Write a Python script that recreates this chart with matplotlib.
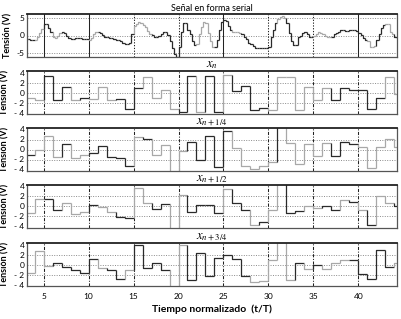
import matplotlib
matplotlib.use("Agg")
import matplotlib.pyplot as plt

plt.rcParams["font.family"] = ["Lato", "DejaVu Sans"]
plt.rcParams["mathtext.fontset"] = "stix"

# start of each unit interval
T = list(range(3, 45))

# serial signal, four samples per unit interval (t = 3, 3.25, ... 44.75)
SERIAL = [-1.0, -1.1, -1.2, -1.3, -1.2, -0.5, 0.6, 1.8,
          3.3, 3.1, 2.1, 0.9, -0.3, -0.6, -0.2, 0.6,
          1.1, 0.8, -0.1, -0.6, -1.0, -1.0, -0.8, -0.7,
          -0.8, -1.0, -1.0, -1.1, -1.2, -0.6, 0.4, 1.0,
          1.1, 0.7, 0.2, -0.3, -0.4, -0.6, -0.8, -1.1,
          -1.2, -1.3, -1.6, -2.0, -2.4, -2.5, -2.2, 0.5,
          2.6, 3.3, 3.7, 3.6, 3.0, 2.4, 1.3, 0.4,
          0.1, -0.4, -0.5, 0.0, 0.5, 1.0, 1.1, 0.2,
          -1.5, -3.6, -5.2, -6.0, -3.1, 1.0, 3.5, 3.4,
          1.5, 0.5, -1.5, -2.7, -2.5, 0.5, 2.5, 3.7,
          3.5, 0.7, -1.5, -3.1, -3.2, -1.2, 1.5, 3.8,
          4.3, 4.0, 2.6, 1.5, 1.1, 1.0, 1.1, 0.8,
          0.5, -0.3, -1.0, -2.2, -2.5, -3.0, -3.5, -3.6,
          -3.6, -3.5, -3.6, -3.4, -3.1, -0.3, 1.5, 3.5,
          4.5, 5.3, 5.4, 5.0, 3.5, 0.7, -1.5, -2.7,
          -2.6, -0.3, -0.2, 0.6, 1.1, 0.3, -0.5, -0.4,
          0.0, 0.3, 0.9, 0.8, 0.3, 0.0, -0.3, -0.5,
          -0.3, 0.5, 0.7, 1.0, 1.4, 1.4, 1.3, 1.3,
          1.4, 1.4, 1.5, 1.3, 0.8, 0.2, -0.6, -1.2,
          -1.5, -3.1, -3.2, -2.8, -1.2, 0.5, 2.1, 3.0,
          3.3, 3.1, 1.1, 0.5, -0.3, -0.8, -0.8, -0.8]
SERIAL_C = "kgkgkkkgkk" "kkggkkkkkg" "gkkgkkkkgk" "kkggkkkkgk" "gk"

# channel values, one per unit interval (t = 3 .. 44)
XN = [-1.1, -1.4, 3.3, -1.4, 1.2, -1.4, -1.0, -1.2, 1.1, -1.4,
      -1.2, -3.3, 1.0, 3.0, -1.0, 0.5, -3.2, -3.8, 3.3, -3.8,
      3.3, -3.8, 3.5, 0.4, 1.3, -3.5, -3.1, -3.5, 3.1, 3.1,
      -3.5, 1.2, -1.4, 1.0, -1.4, 1.0, 0.5, 0.6, -3.2, -1.0,
      3.1, -0.2]
XN_C = "ggkkkgkggg" "kkkggggkkg" "kkgkkkkggg" "ggggkkkkkk" "gg"

XQ1 = [-1.0, 0.0, 2.7, -1.5, 1.1, -1.6, -1.1, -0.6, 0.8, -1.4,
       -1.7, -3.2, 2.5, 2.1, -1.0, 1.0, -5.2, -0.3, 1.5, -2.1,
       2.7, -3.4, 3.8, 0.3, -3.2, -3.8, -3.3, -2.5, 5.0, 1.3,
       -2.9, 1.1, -1.3, 1.3, -1.3, 1.5, 1.1, 0.6, -3.7, 0.6,
       2.2, 0.6]
XQ1_C = "kggg" "kggk" "kkkk" "gkgg" "ggkk" "kkkg" "gggg" "kggg" "ggkk" "kggg" "gg"

XQ2 = [-1.4, 1.5, 1.5, -0.8, 0.6, -1.6, -1.1, 0.3, -0.2, -1.1,
       -2.1, -2.4, 3.6, 0.6, -0.5, 0.4, -6.3, 2.3, -1.1, 0.3,
       0.3, -1.4, 3.4, 0.75, -0.8, -3.8, -3.1, -0.8, 5.3, -1.4,
       -1.0, 0.1, -0.4, 0.1, -0.8, 1.25, 0.9, -0.8, -3.8, 2.1,
       0.75, 0.1]
XQ2_C = "ggkk" "gggk" "ggkk" "ggkk" "ggkk" "kkgk" "kgkg" "gkkg" "gkkg" "kgkg" "gk"

XQ3 = [-1.7, 2.8, -0.3, 0.3, -0.5, -1.1, -1.6, 1.1, -0.6, -1.0,
       -2.8, -1.0, 3.9, -0.6, 0.3, -1.0, -5.5, 3.9, -3.0, 2.4,
       -2.3, 1.3, 2.0, 1.1, -2.3, -3.4, -3.2, 1.0, 4.6, -3.0,
       0.3, -0.8, 0.0, -0.8, 0.3, 1.0, 1.0, -1.9, -2.9, 3.0,
       -0.5, 0.3]
XQ3_C = "gggk" "kkkk" "gkkg" "kkkk" "ggkk" "kkkk" "kggg" "ggkg" "kggg" "kkkk" "kg"

TITLES = [r"$x_n$", r"$x_{n+1/4}$", r"$x_{n+1/2}$", r"$x_{n+3/4}$"]
XTICKS = [5, 10, 15, 20, 25, 30, 35, 40]

COL = {"k": "#2a2a2a", "g": "#a8a8a8"}
W, H = 402, 319


def step_plot(ax, t, v, colors):
    for i in range(len(v)):
        prev = v[i - 1] if i > 0 else v[i]
        ax.plot([t[i], t[i], t[i + 1]], [prev, v[i], v[i]],
                color=COL[colors[i]], lw=0.9, solid_capstyle="butt")


def style(ax, yticks, ylabels, ylim, vstyle):
    ax.set_xlim(3.15, 44.3)
    ax.set_ylim(*ylim)
    ax.set_yticks(yticks)
    ax.set_yticklabels(ylabels, fontsize=6)
    ax.set_xticks(XTICKS)
    ax.tick_params(length=0, pad=2)
    for y in yticks:
        if abs(y) < 4 or ylim[1] > 5:
            ax.axhline(y, color="#8a8a8a", ls=(0, (1, 1.5)), lw=0.7, zorder=0)
    for x in XTICKS:
        ax.axvline(x, color="#222222", ls=vstyle(x), lw=0.75, zorder=0)
    for s in ax.spines.values():
        s.set_color("#555555")
        s.set_linewidth(0.9)
    ax.spines["top"].set_color("#222222")
    ax.spines["top"].set_linewidth(1.3)
    ax.set_ylabel("Tensión (V)", fontsize=6.5, fontweight="bold", labelpad=3)


fig = plt.figure(figsize=(W / 100, H / 100), dpi=100)
left, right = 27 / W, 397 / W
tops = [14, 71, 128, 185, 243]
ph = 43

chans = [XN, XQ1, XQ2, XQ3]
cols = [XN_C, XQ1_C, XQ2_C, XQ3_C]

ser_t = [T[i] + k / 4 for i in range(len(T)) for k in range(4)] + [T[-1] + 1]
ser_c = [SERIAL_C[i] for i in range(len(T)) for k in range(4)]

ax0 = fig.add_axes([left, 1 - (tops[0] + ph) / H, right - left, ph / H])
step_plot(ax0, ser_t, SERIAL, ser_c)
style(ax0, [-5, 0, 5], ["-5", "0", "5"], (-6.0, 6.0),
      lambda x: "-" if x in (5, 10, 25, 40) else (0, (1.2, 1.5)))
ax0.set_xticklabels([])
ax0.set_title("Señal en forma serial", fontsize=6.5, pad=2)

tt = T + [T[-1] + 1]
for j in range(4):
    ax = fig.add_axes([left, 1 - (tops[j + 1] + ph) / H, right - left, ph / H])
    step_plot(ax, tt, chans[j], cols[j])
    style(ax, [-4, -2, 0, 2, 4], ["- 4", "- 2", "0", "2", "4"], (-4.3, 4.3),
          lambda x: (0, (3, 1.5, 1, 1.5)))
    ax.set_title(TITLES[j], fontsize=9, pad=1)
    if j < 3:
        ax.set_xticklabels([])
    else:
        ax.set_xticklabels([str(x) for x in XTICKS], fontsize=6)
        ax.tick_params(axis="x", pad=5)
        ax.set_xlabel("Tiempo normalizado  (t/T)", fontsize=7.5,
                      fontweight="bold", labelpad=3)

fig.savefig("out.png", dpi=100)
